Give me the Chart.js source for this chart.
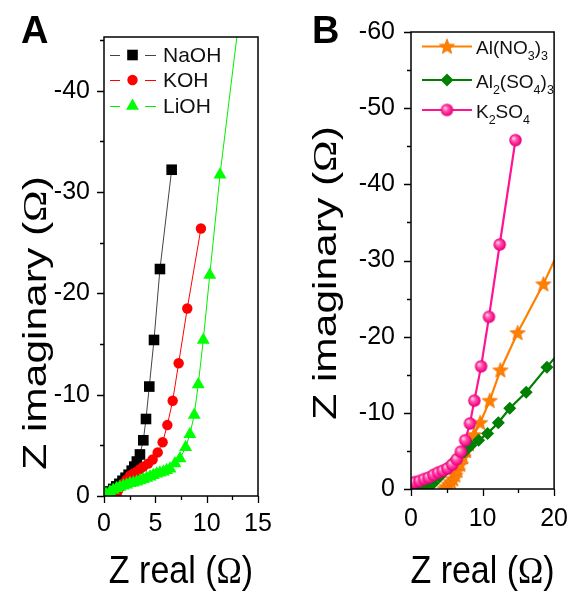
<!DOCTYPE html>
<html><head><meta charset="utf-8">
<script src="https://cdn.jsdelivr.net/npm/chart.js@4.4.1/dist/chart.umd.min.js"></script>
<style>
html,body{margin:0;padding:0;background:#fff;}
#wrap{position:relative;width:583px;height:592px;overflow:hidden;}
canvas{position:absolute;top:0;}
</style></head><body>
<div id="wrap">
<canvas id="ca" width="291" height="592" style="left:0px"></canvas>
<canvas id="cb" width="292" height="592" style="left:291px"></canvas>
</div>
<script>
// ---------- Panel A data (Z real, Z imaginary) ----------
const naohX = [0.3,0.6,0.9,1.2,1.5,1.8,2.1,2.4,2.7,2.95,3.2,3.5,3.83,4.09,4.41,4.87,5.45,6.59];
const naohY = [-0.2,-0.45,-0.7,-0.95,-1.2,-1.5,-1.8,-2.1,-2.5,-2.9,-3.4,-4.1,-5.5,-7.6,-10.8,-15.4,-22.4,-32.2];
const kohX = [1.23,1.4,1.65,1.88,2.2,2.53,2.85,3.2,3.5,3.83,4.3,4.74,5.23,5.71,6.17,6.69,7.27,8.11,9.44];
const kohY = [-0.1,-0.6,-0.95,-1.25,-1.6,-2.0,-2.2,-2.4,-2.65,-2.9,-3.2,-3.6,-4.3,-5.3,-7.0,-9.4,-13.1,-18.5,-26.4];
const liohX = [0.2,0.58,0.9,1.23,1.55,1.88,2.2,2.53,2.85,3.18,3.5,3.83,4.15,4.48,4.8,5.13,5.45,5.78,6.1,6.43,6.91,7.4,7.95,8.37,8.79,9.18,9.67,10.3,11.3,13.0];
const liohY = [-0.2,-0.42,-0.6,-0.76,-0.9,-1.0,-1.12,-1.25,-1.32,-1.4,-1.52,-1.65,-1.78,-1.9,-2.05,-2.2,-2.3,-2.4,-2.55,-2.7,-3.2,-3.7,-4.8,-6.1,-8.0,-11.0,-15.4,-21.8,-31.7,-45.8];

// ---------- Panel B data ----------
const alno3X = [4.7,5.0,5.3,5.6,5.9,6.2,6.5,6.9,7.3,7.7,8.1,8.8,9.67,11.0,12.5,14.9,18.5,21.5];
const alno3Y = [-0.05,-0.3,-0.6,-0.95,-1.3,-1.8,-2.4,-3.2,-4.2,-5.0,-5.9,-7.1,-8.7,-11.6,-15.6,-20.5,-26.9,-33.0];
const al2so4X = [0.6,1.4,2.26,3.1,4.0,4.9,5.75,6.6,7.5,8.37,9.45,10.7,12.2,13.8,16.1,19.0,22.0];
const al2so4Y = [0.0,-0.05,-0.1,-0.75,-1.6,-2.5,-3.4,-4.25,-4.9,-5.7,-6.4,-7.3,-8.7,-10.6,-12.7,-16.0,-19.4];
const k2so4X = [0.09,0.52,1.18,1.83,2.48,3.14,3.79,4.44,5.1,5.75,6.4,6.97,7.58,8.24,8.85,9.8,10.9,12.4,14.6];
const k2so4Y = [-0.75,-0.9,-1.05,-1.3,-1.5,-1.85,-2.15,-2.4,-2.7,-3.2,-3.9,-4.9,-6.4,-8.6,-11.6,-16.1,-22.6,-32.1,-45.8];

// ---------- Ticks ----------
const aXTicks = [0,2.5,5,7.5,10,12.5,15];
const aXLabels = [0,5,10,15];
const aYTicks = [-45,-40,-35,-30,-25,-20,-15,-10,-5,0];
const aYLabels = [-40,-30,-20,-10,0];
const bXTicks = [0,5,10,15,20];
const bXLabels = [0,10,20];
const bYTicks = [-60,-55,-50,-45,-40,-35,-30,-25,-20,-15,-10,-5,0];
const bYLabels = [-60,-50,-40,-30,-20,-10,0];

// ---------- Text ----------
const seriesA = ['NaOH','KOH','LiOH'];
const seriesB = [
  [['Al(NO',0],['3',1],[')',0],['3',1]],
  [['Al',0],['2',1],['(SO',0],['4',1],[')',0],['3',1]],
  [['K',0],['2',1],['SO',0],['4',1]]
];
const xTitle = [['Z real (','s'],['\u03A9','r'],[')','s']];
const yTitle = [['Z imaginary (','s'],['\u03A9','r'],[')','s']];

const SANS = "'Liberation Sans', Arial, sans-serif";
const SERIF = "'Liberation Serif', 'Times New Roman', serif";

// ---------- custom marker images ----------
function makeSphere(r, base) {
  const c = document.createElement('canvas');
  const s = Math.ceil(r*2+2); c.width = s; c.height = s;
  const g = c.getContext('2d');
  const cx = s/2, cy = s/2;
  const grd = g.createRadialGradient(cx - r*0.35, cy - r*0.35, 0.5, cx, cy, r);
  grd.addColorStop(0, '#ffd0e8');
  grd.addColorStop(0.35, '#ff5cae');
  grd.addColorStop(0.75, base);
  grd.addColorStop(1, '#d8006e');
  g.fillStyle = grd;
  g.beginPath(); g.arc(cx, cy, r, 0, Math.PI*2); g.fill();
  return c;
}
function makeStar(ro, ri, color) {
  const c = document.createElement('canvas');
  const s = Math.ceil(ro*2+2); c.width = s; c.height = s;
  const g = c.getContext('2d');
  const cx = s/2, cy = s/2 + 0.5;
  g.beginPath();
  for (let i = 0; i < 10; i++) {
    const r = i % 2 ? ri : ro;
    const a = -Math.PI/2 + i*Math.PI/5;
    const px = cx + r*Math.cos(a), py = cy + r*Math.sin(a);
    i ? g.lineTo(px, py) : g.moveTo(px, py);
  }
  g.closePath();
  g.fillStyle = color; g.fill();
  g.strokeStyle = '#f07000'; g.lineWidth = 0.8; g.stroke();
  return c;
}
const PINK = '#ff1493';
const ORANGE = '#ff8000';
const DGREEN = '#008000';
const sphereImg = makeSphere(6.2, PINK);
const starImg = makeStar(8, 3.4, ORANGE);

function pts(xs, ys) { return xs.map((x, i) => ({x: x, y: ys[i]})); }

// ---------- text helpers ----------
function partsWidth(ctx, parts, size) {
  let w = 0;
  parts.forEach(p => { ctx.font = size + 'px ' + (p[1] === 'r' ? SERIF : SANS); w += ctx.measureText(p[0]).width; });
  return w;
}
function drawParts(ctx, parts, x, y, size) {
  parts.forEach(p => {
    ctx.font = size + 'px ' + (p[1] === 'r' ? SERIF : SANS);
    ctx.fillText(p[0], x, y);
    x += ctx.measureText(p[0]).width;
  });
}
function drawXTitle(ctx, cx, baseY, size, sy) {
  ctx.save();
  ctx.fillStyle = '#000'; ctx.textBaseline = 'alphabetic'; ctx.textAlign = 'left';
  const w = partsWidth(ctx, xTitle, size);
  ctx.translate(cx - w/2, baseY);
  ctx.scale(1, sy);
  drawParts(ctx, xTitle, 0, 0, size);
  ctx.restore();
}
function drawYTitle(ctx, baseX, cy, size, sl) {
  ctx.save();
  ctx.fillStyle = '#000'; ctx.textBaseline = 'alphabetic'; ctx.textAlign = 'left';
  const w = partsWidth(ctx, yTitle, size);
  ctx.translate(baseX, cy);
  ctx.rotate(-Math.PI/2);
  ctx.scale(sl, 1);
  drawParts(ctx, yTitle, -w/2, 0, size);
  ctx.restore();
}
function drawSubText(ctx, parts, x, y, size, subSize, subDy) {
  ctx.textBaseline = 'alphabetic'; ctx.textAlign = 'left'; ctx.fillStyle = '#111';
  parts.forEach(p => {
    const sub = p[1] === 1;
    ctx.font = (sub ? subSize : size) + 'px ' + SANS;
    ctx.fillText(p[0], x, sub ? y + subDy : y);
    x += ctx.measureText(p[0]).width;
  });
}

function framePlugin(cfg) {
  return {
    id: 'frame_' + cfg.name,
    afterDraw(chart) {
      const ctx = chart.ctx, a = chart.chartArea;
      const xs = chart.scales.x, ys = chart.scales.y;
      ctx.save();
      ctx.strokeStyle = '#000';
      ctx.lineWidth = 1.5;
      ctx.strokeRect(a.left, a.top, a.right - a.left, a.bottom - a.top);
      ctx.lineWidth = 1.3;
      ctx.beginPath();
      xs.ticks.forEach(t => {
        const p = Math.round(xs.getPixelForValue(t.value)) + 0.5;
        const len = cfg.xLabels.includes(t.value) ? 7 : 4;
        ctx.moveTo(p, a.bottom); ctx.lineTo(p, a.bottom + len);
      });
      ys.ticks.forEach(t => {
        const p = Math.round(ys.getPixelForValue(t.value)) + 0.5;
        const len = cfg.yLabels.includes(t.value) ? 7 : 4;
        ctx.moveTo(a.left, p); ctx.lineTo(a.left - len, p);
      });
      ctx.stroke();
      // panel letter
      ctx.fillStyle = '#000';
      ctx.font = 'bold 38px ' + SANS;
      ctx.textBaseline = 'alphabetic'; ctx.textAlign = 'left';
      ctx.fillText(cfg.letter, cfg.letterX, 43);
      drawXTitle(ctx, (a.left + a.right)/2, 583, 34, 1.12);
      drawYTitle(ctx, cfg.yTitleX, cfg.yTitleCY, 34, 1.25);
      cfg.legend(ctx, chart);
      ctx.restore();
    }
  };
}

function axisX(min, max, ticks, labels, pad) {
  return {
    type: 'linear', min: min, max: max,
    afterBuildTicks: s => { s.ticks = ticks.map(v => ({value: v})); },
    ticks: { callback: v => labels.includes(v) ? String(v) : '', autoSkip: false, maxRotation: 0, minRotation: 0,
             font: {family: SANS, size: 25}, color: '#000', padding: pad },
    grid: { display: false, drawTicks: false }, border: { display: false }
  };
}
function axisY(min, max, ticks, labels, pad) {
  return {
    type: 'linear', min: min, max: max, reverse: true,
    afterBuildTicks: s => { s.ticks = ticks.map(v => ({value: v})); },
    ticks: { callback: v => labels.includes(v) ? String(v) : '', autoSkip: false,
             font: {family: SANS, size: 25}, color: '#000', padding: pad },
    grid: { display: false, drawTicks: false }, border: { display: false }
  };
}

// ---------- Chart A ----------
const styleA = [
  {line: '#444', fill: '#000', pointStyle: 'rect', r: 7.5},
  {line: '#ff0000', fill: '#ff0000', pointStyle: 'circle', r: 5.2},
  {line: '#00ee00', fill: '#00ff00', pointStyle: 'triangle', r: 7.5}
];
const dataA = [[naohX, naohY], [kohX, kohY], [liohX, liohY]];
new Chart(document.getElementById('ca'), {
  type: 'scatter',
  data: { datasets: dataA.map((d, i) => ({
    label: seriesA[i], data: pts(d[0], d[1]), showLine: true,
    borderColor: styleA[i].line, borderWidth: 1,
    pointStyle: styleA[i].pointStyle, pointRadius: styleA[i].r,
    pointBackgroundColor: styleA[i].fill, pointBorderColor: styleA[i].fill, pointBorderWidth: 0,
    order: 2 - i, clip: i === 2 ? 0 : undefined
  })) },
  options: {
    responsive: false, animation: false, devicePixelRatio: 1, events: [],
    plugins: { legend: {display: false}, tooltip: {enabled: false} },
    layout: { padding: { left: 0, top: 37, right: 33, bottom: 0 } },
    scales: {
      x: Object.assign(axisX(0, 15, aXTicks, aXLabels, 13), { afterFit: s => { s.height = 96; } }),
      y: Object.assign(axisY(-45.3, 0, aYTicks, aYLabels, 14), { afterFit: s => { s.width = 104; } })
    }
  },
  plugins: [framePlugin({
    name: 'A', letter: 'A', letterX: 21, xLabels: aXLabels, yLabels: aYLabels,
    yTitleX: 46, yTitleCY: 323,
    legend: (ctx, chart) => {
      const rows = [55, 80, 106];
      seriesA.forEach((name, i) => {
        const y = rows[i];
        ctx.strokeStyle = styleA[i].line; ctx.lineWidth = 1.2;
        ctx.beginPath(); ctx.moveTo(110, y + 0.5); ctx.lineTo(120, y + 0.5);
        ctx.moveTo(145, y + 0.5); ctx.lineTo(156, y + 0.5); ctx.stroke();
        ctx.fillStyle = styleA[i].fill; ctx.strokeStyle = styleA[i].fill;
        Chart.helpers.drawPoint(ctx, {pointStyle: styleA[i].pointStyle, radius: styleA[i].r, rotation: 0, borderWidth: 0}, 132.5, y);
        ctx.fillStyle = '#111'; ctx.font = '21px ' + SANS; ctx.textBaseline = 'middle'; ctx.textAlign = 'left';
        ctx.fillText(name, 163, y + 1);
      });
    }
  })]
});

// ---------- Chart B ----------
const styleB = [
  {color: ORANGE, pointStyle: starImg, r: 8},
  {color: DGREEN, pointStyle: 'rectRot', r: 6.5},
  {color: PINK, pointStyle: sphereImg, r: 6.2}
];
const dataB = [[alno3X, alno3Y], [al2so4X, al2so4Y], [k2so4X, k2so4Y]];
new Chart(document.getElementById('cb'), {
  type: 'scatter',
  data: { datasets: dataB.map((d, i) => ({
    label: 'B' + i, data: pts(d[0], d[1]), showLine: true,
    borderColor: styleB[i].color, borderWidth: 2.2,
    pointStyle: styleB[i].pointStyle, pointRadius: styleB[i].r,
    pointBackgroundColor: styleB[i].color, pointBorderColor: styleB[i].color, pointBorderWidth: 0,
    order: 2 - i, clip: i === 2 ? undefined : 0
  })) },
  options: {
    responsive: false, animation: false, devicePixelRatio: 1, events: [],
    plugins: { legend: {display: false}, tooltip: {enabled: false} },
    layout: { padding: { left: 0, top: 32, right: 19, bottom: 0 } },
    scales: {
      x: Object.assign(axisX(0, 20, bXTicks, bXLabels, 15), { afterFit: s => { s.height = 103; } }),
      y: Object.assign(axisY(-60, 0, bYTicks, bYLabels, 16), { afterFit: s => { s.width = 120; } })
    }
  },
  plugins: [framePlugin({
    name: 'B', letter: 'B', letterX: 21, xLabels: bXLabels, yLabels: bYLabels,
    yTitleX: 45, yTitleCY: 273,
    legend: (ctx, chart) => {
      const rows = [46.5, 80, 110];
      seriesB.forEach((parts, i) => {
        const y = rows[i];
        ctx.strokeStyle = styleB[i].color; ctx.lineWidth = 2.2;
        ctx.beginPath(); ctx.moveTo(131, y); ctx.lineTo(181, y); ctx.stroke();
        ctx.fillStyle = styleB[i].color; ctx.strokeStyle = styleB[i].color;
        Chart.helpers.drawPoint(ctx, {pointStyle: styleB[i].pointStyle, radius: styleB[i].r, rotation: 0, borderWidth: 0}, 156, y);
        drawSubText(ctx, parts, 185, y + 7.5, 19, 12.5, 6);
      });
    }
  })]
});
</script>
</body></html>
